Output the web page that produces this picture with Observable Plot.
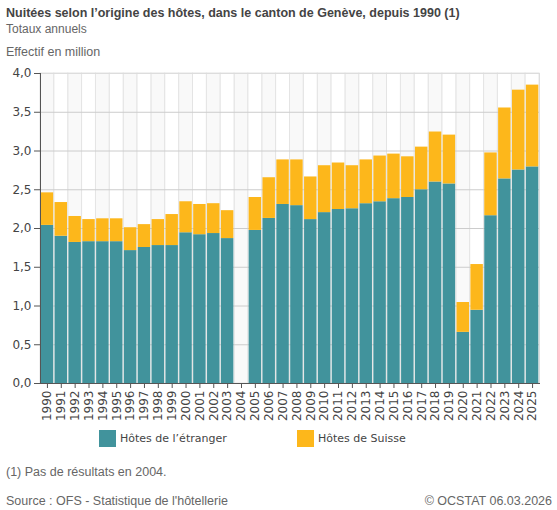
<!DOCTYPE html>
<html><head><meta charset="utf-8">
<script src="https://cdn.jsdelivr.net/npm/d3@7"></script>
<script src="https://cdn.jsdelivr.net/npm/@observablehq/plot@0.6"></script>
<style>
body{margin:0;background:#fff;}
#wrap{position:relative;width:557px;height:510px;font-family:"Liberation Sans",Arial,sans-serif;overflow:hidden;}
.t{position:absolute;white-space:nowrap;line-height:1;}
#chart{position:absolute;left:0;top:60px;}
.sw{position:absolute;width:17px;height:17px;}
.lg{position:absolute;font-family:"DejaVu Sans",Verdana,sans-serif;font-size:11px;color:#444;line-height:1;white-space:nowrap;}
</style></head><body>
<div id="wrap">
  <div class="t" style="left:6px;top:6.5px;font-size:12.5px;font-weight:bold;color:#444;">Nuitées selon l’origine des hôtes, dans le canton de Genève, depuis 1990 (1)</div>
  <div class="t" style="left:6px;top:22.5px;font-size:12px;color:#666;">Totaux annuels</div>
  <div class="t" style="left:6px;top:45.5px;font-size:12.5px;color:#666;">Effectif en million</div>
  <div id="chart"></div>
  <div class="sw" style="left:99px;top:430px;background:#41939c;"></div>
  <div class="lg" style="left:120px;top:433px;">Hôtes de l’étranger</div>
  <div class="sw" style="left:297px;top:430px;background:#fdb71b;"></div>
  <div class="lg" style="left:318px;top:433px;">Hôtes de Suisse</div>
  <div class="t" style="left:6px;top:465.5px;font-size:12.5px;color:#666;">(1) Pas de résultats en 2004.</div>
  <div class="t" style="left:6px;top:495px;font-size:12.5px;color:#666;">Source : OFS - Statistique de l'hôtellerie</div>
  <div class="t" style="right:5px;top:495px;font-size:12.5px;color:#666;">© OCSTAT 06.03.2026</div>
</div>
<script>
const years = ["1990","1991","1992","1993","1994","1995","1996","1997","1998","1999",
  "2000","2001","2002","2003","2004","2005","2006","2007","2008","2009",
  "2010","2011","2012","2013","2014","2015","2016","2017","2018","2019",
  "2020","2021","2022","2023","2024","2025"];
const series = ["Hôtes de l’étranger","Hôtes de Suisse"];
const foreign = [2.04,1.90,1.82,1.83,1.83,1.83,1.715,1.755,1.78,1.78,
  1.945,1.92,1.935,1.87,null,1.975,2.13,2.31,2.295,2.115,
  2.205,2.245,2.255,2.32,2.345,2.385,2.40,2.50,2.60,2.575,
  0.66,0.945,2.165,2.64,2.755,2.795];
const swiss = [0.42,0.435,0.335,0.285,0.295,0.295,0.295,0.295,0.335,0.40,
  0.40,0.39,0.385,0.36,null,0.425,0.525,0.575,0.59,0.55,
  0.605,0.60,0.555,0.565,0.59,0.575,0.525,0.55,0.645,0.63,
  0.385,0.59,0.81,0.915,1.03,1.055];
const yTicks = [0,0.5,1,1.5,2,2.5,3,3.5,4];
const colors = ["#41939c","#fdb71b"];

const rows = [];
years.forEach((y,i)=>{
  if (foreign[i] != null) rows.push({year:y, series:series[0], value:foreign[i]});
  if (swiss[i] != null) rows.push({year:y, series:series[1], value:swiss[i]});
});
const fmt = d => d3.format(".1f")(d).replace(".", ",");

const plot = Plot.plot({
  width: 557,
  height: 370,
  marginTop: 13,
  marginBottom: 47,
  marginLeft: 40,
  marginRight: 18,
  style: {fontFamily: "DejaVu Sans, Verdana, sans-serif", fontSize: "12px", color: "#444", background: "transparent"},
  x: {domain: years, padding: 0, label: null},
  y: {domain: [0,4], label: null},
  color: {domain: series, range: colors},
  marks: [
    Plot.barY(years.filter((d,i)=>i%2===0), {x: d=>d, y1: 0, y2: 4, fill: "#f9f9f9", stroke: "#e4e4e4", strokeWidth: 1}),
    Plot.barY(years.filter((d,i)=>i%2===1), {x: d=>d, y1: 0, y2: 4, fill: "#ffffff", stroke: "#e4e4e4", strokeWidth: 1}),
    Plot.ruleY(yTicks, {stroke: "#cccccc"}),
    Plot.barY(rows, {x: "year", y: "value", fill: "series", insetLeft: 0.7, insetRight: 0.7}),
    Plot.frame({stroke: "#dddddd"}),
    Plot.axisY({ticks: yTicks, tickFormat: fmt, tickSize: 6, tickPadding: 3, stroke: "#555", fill: "#444", label: null}),
    Plot.axisX({tickRotate: -90, tickSize: 5, tickPadding: 2, stroke: "#555", fill: "#444", label: null}),
    Plot.frame({anchor: "left", stroke: "#555"}),
    Plot.frame({anchor: "bottom", stroke: "#555"})
  ]
});
document.getElementById("chart").appendChild(plot);
</script>
</body></html>
